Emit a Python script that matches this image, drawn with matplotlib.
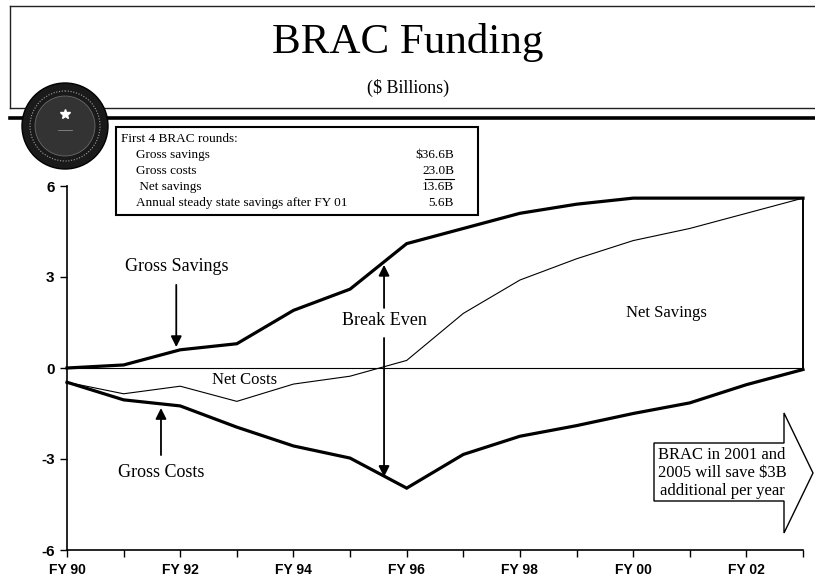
import matplotlib
matplotlib.use("Agg")
import matplotlib.pyplot as plt
from matplotlib.patches import Rectangle, Polygon, Circle

# ---------------- data ----------------
years = list(range(1990, 2004))
gross_savings = [0.0, 0.1, 0.6, 0.8, 1.9, 2.6, 4.1, 4.6, 5.1, 5.4, 5.6, 5.6, 5.6, 5.6]
gross_costs = [-0.47, -1.05, -1.25, -1.95, -2.57, -2.97, -3.96, -2.85, -2.25, -1.9, -1.5, -1.15, -0.55, -0.05]
net = [-0.47, -0.85, -0.6, -1.1, -0.53, -0.27, 0.25, 1.8, 2.9, 3.6, 4.2, 4.6, 5.1, 5.6]
ytick_vals = [-6, -3, 0, 3, 6]
xtick_years = [1990, 1992, 1994, 1996, 1998, 2000, 2002]
xtick_labels = ["FY 90", "FY 92", "FY 94", "FY 96", "FY 98", "FY 00", "FY 02"]

box_rows = ["Gross savings", "Gross costs", " Net savings", "Annual steady state savings after FY 01"]
box_vals = ["$36.6B", "23.0B", "13.6B", "5.6B"]

SERIF = ["Liberation Serif", "DejaVu Serif"]
TICKF = ["Liberation Sans Narrow", "Liberation Sans", "DejaVu Sans"]

W, H = 815, 583
fig = plt.figure(figsize=(W / 100, H / 100), dpi=100)
fig.patch.set_facecolor("white")

# ---------------- main axes ----------------
ax = fig.add_axes([67 / W, 33 / H, 736 / W, 364 / H])
ax.set_xlim(years[0], years[-1])
ax.set_ylim(-6, 6)
for s in ["top", "right"]:
    ax.spines[s].set_visible(False)
for s in ["left", "bottom"]:
    ax.spines[s].set_linewidth(1.2)

ax.set_yticks(ytick_vals)
ax.set_yticklabels([str(v) for v in ytick_vals], fontfamily=TICKF, fontweight="bold", fontsize=11)
ax.set_xticks(xtick_years)
ax.set_xticklabels(xtick_labels, fontfamily=TICKF, fontweight="bold", fontsize=10)
ax.set_xticks(years, minor=True)
ax.tick_params(axis="both", which="both", direction="out", length=5, width=1, color="black")
ax.tick_params(axis="x", pad=4)
ax.tick_params(axis="y", pad=4)

ax.axhline(0, color="black", lw=0.8, zorder=2)
ax.plot(years, gross_savings, color="black", lw=2.3, clip_on=False, zorder=3, solid_joinstyle="miter")
ax.plot(years, gross_costs, color="black", lw=2.3, clip_on=False, zorder=3, solid_joinstyle="miter")
ax.plot(years, net, color="black", lw=0.8, clip_on=False, zorder=3)
ax.vlines(years[-1], gross_costs[-1], gross_savings[-1], color="black", lw=1.4, clip_on=False, zorder=3)

arrow_kw = dict(arrowstyle="-|>", lw=1.3, color="black", mutation_scale=16, shrinkA=0, shrinkB=0)
# Gross Savings
ax.annotate("", xy=(1991.93, 0.69), xytext=(1991.93, 2.74), arrowprops=arrow_kw)
ax.text(1991.93, 3.33, "Gross Savings", ha="center", va="center", fontfamily=SERIF, fontsize=13)
# Gross Costs
ax.annotate("", xy=(1991.66, -1.32), xytext=(1991.66, -2.87), arrowprops=arrow_kw)
ax.text(1991.66, -3.46, "Gross Costs", ha="center", va="center", fontfamily=SERIF, fontsize=13)
# Break Even
ax.annotate("", xy=(1995.6, 3.4), xytext=(1995.6, 1.98), arrowprops=arrow_kw)
ax.annotate("", xy=(1995.6, -3.59), xytext=(1995.6, 0.99), arrowprops=arrow_kw)
ax.text(1995.6, 1.55, "Break Even", ha="center", va="center", fontfamily=SERIF, fontsize=13)
# area labels
ax.text(1993.14, -0.4, "Net Costs", ha="center", va="center", fontfamily=SERIF, fontsize=12)
ax.text(2000.58, 1.8, "Net Savings", ha="center", va="center", fontfamily=SERIF, fontsize=12)

# ---------------- overlay (pixel coordinates) ----------------
ov = fig.add_axes([0, 0, 1, 1], facecolor="none")
ov.set_xlim(0, W)
ov.set_ylim(H, 0)
ov.axis("off")

# header frame
ov.plot([10, W], [6, 6], color="#222222", lw=1.0)
ov.plot([10, 10], [6, 108], color="#222222", lw=1.0)
ov.plot([10, W], [108, 108], color="#222222", lw=1.0)
ov.plot([10, W], [118, 118], color="black", lw=2.6)

fig.text(408 / W, 1 - 43 / H, "BRAC Funding", ha="center", va="center", fontfamily=SERIF, fontsize=31)
fig.text(408 / W, 1 - 88 / H, "($ Billions)", ha="center", va="center", fontfamily=SERIF, fontsize=13)

# seal
ov.add_patch(Circle((65, 126), 43, facecolor="#1a1a1a", edgecolor="black", lw=1, zorder=5))
ov.add_patch(Circle((65, 126), 35, facecolor="none", edgecolor="#a0a0a0", lw=0.8, ls=(0, (1, 1.5)), zorder=6))
ov.add_patch(Circle((65, 126), 30, facecolor="#333333", edgecolor="#777777", lw=0.5, zorder=6))
ov.plot([65], [114], marker="*", color="white", markersize=7, zorder=7)
ov.plot([58, 72], [130, 130], color="#888888", lw=0.6, zorder=7)

# info box
ov.add_patch(Rectangle((116, 127), 362, 88, facecolor="white", edgecolor="black", lw=1.5, zorder=5))
ov.text(121, 139, "First 4 BRAC rounds:", ha="left", va="center", fontfamily=SERIF, fontsize=9.5, zorder=6)
row_y = [155, 171, 187, 203]
for lab, val, yy in zip(box_rows, box_vals, row_y):
    ov.text(136, yy, lab, ha="left", va="center", fontfamily=SERIF, fontsize=9.5, zorder=6)
    ov.text(454, yy, val, ha="right", va="center", fontfamily=SERIF, fontsize=9.5, zorder=6)
ov.plot([425, 454], [178.5, 178.5], color="black", lw=0.8, zorder=6)

# block arrow
arrow_pts = [(654, 443), (784, 443), (784, 413), (813, 473), (784, 533), (784, 501), (654, 501)]
ov.add_patch(Polygon(arrow_pts, closed=True, facecolor="white", edgecolor="black", lw=1.0, zorder=5))
ov.text(722, 473, "BRAC in 2001 and\n2005 will save $3B\nadditional per year", ha="center", va="center",
        fontfamily=SERIF, fontsize=12, linespacing=1.15, zorder=6)

fig.savefig("out.png", dpi=100, facecolor="white")
